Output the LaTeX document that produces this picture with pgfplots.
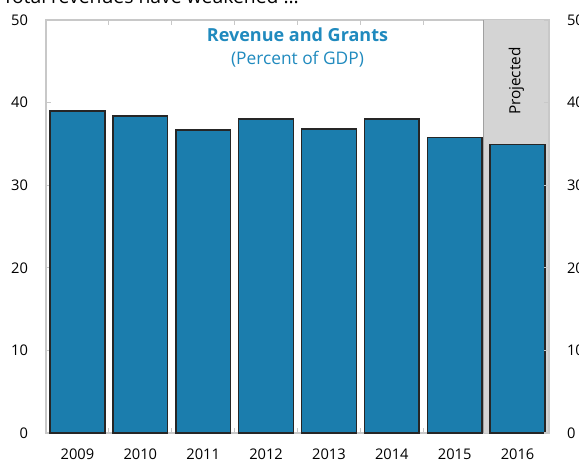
\documentclass[border=0pt]{standalone}
\usepackage{fontspec}
\setmainfont{Open Sans}
\usepackage{pgfplots}
\pgfplotsset{compat=1.18}
\definecolor{barblue}{RGB}{27,125,173}
\definecolor{titleblue}{RGB}{32,138,190}
\definecolor{projgray}{RGB}{212,212,212}
\definecolor{axgray}{RGB}{200,200,200}
\begin{document}
\begin{tikzpicture}[x=0.75pt,y=0.75pt]
\pgfplotsset{
  common/.style={
    scale only axis,
    width=377.25pt, height=309.75pt,
    xmin=-0.5, xmax=7.5, ymin=0, ymax=50,
    ytick={0,10,20,30,40,50},
    tick align=inside,
    major tick length=4pt,
    tick style={axgray, line width=0.8pt},
    axis line style={axgray, line width=1pt},
    tick label style={font=\fontsize{11}{13}\selectfont, black},
    /pgf/number format/assume math mode=true,
  }
}
\begin{axis}[common,
  at={(0,0)}, anchor=south west,
  xtick={0,...,7},
  xticklabels={2009,2010,2011,2012,2013,2014,2015,2016},
  major x tick style={draw=none},
  minor xtick={0.5,1.5,...,6.5},
  minor tick length=4pt,
  minor x tick style={axgray, line width=0.8pt},
  xticklabel style={yshift=-8pt},
  yticklabel style={xshift=-10pt},
  clip=false,
]
\fill[projgray] (axis cs:6.46,0) rectangle (axis cs:7.5,50);
\draw[axgray!80!black, line width=0.4pt] (axis cs:6.46,0) -- (axis cs:6.46,50);
\addplot[ybar, bar width=0.87, fill=barblue, draw=black!85, line width=1.1pt]
  coordinates {(0,39.0) (1,38.4) (2,36.7) (3,38.0) (4,36.8) (5,38.0) (6,35.8) (7,34.9)};
\node[font=\fontsize{13.5}{15}\selectfont\bfseries, text=titleblue] at (axis cs:3.5,48.2) {Revenue and Grants};
\node[font=\fontsize{13}{15}\selectfont, text=titleblue] at (axis cs:3.5,45.2) {(Percent of GDP)};
\node[rotate=90, font=\fontsize{11.5}{13}\selectfont] at (axis cs:6.98,42.6) {Projected};
\end{axis}
\begin{axis}[common,
  at={(0,0)}, anchor=south west,
  axis x line=none,
  axis y line*=right,
  yticklabel style={xshift=10pt},
]
\addplot[draw=none] coordinates {(0,0)};
\end{axis}
\node[anchor=base west, font=\fontsize{14.5}{16}\selectfont] at (-48,430) {Total revenues have weakened \ldots};
\pgfresetboundingbox
\useasboundingbox (-46,-29) rectangle (533,433);
\end{tikzpicture}
\end{document}
